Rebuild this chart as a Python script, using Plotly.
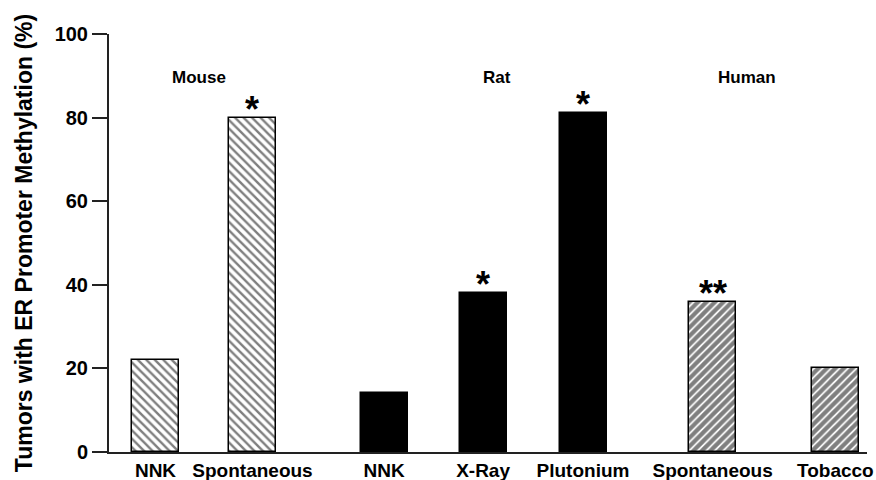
import plotly.graph_objects as go

# ---- data ----
groups = ["Mouse", "Mouse", "Rat", "Rat", "Rat", "Human", "Human"]
labels = ["NNK", "Spontaneous", "NNK", "X-Ray", "Plutonium", "Spontaneous", "Tobacco"]
values = [22, 80, 14, 38, 81, 36, 20]
stars = ["", "*", "", "*", "*", "**", ""]
group_names = ["Mouse", "Rat", "Human"]
y_ticks = [0, 20, 40, 60, 80, 100]

# ---- layout positions (not data) ----
x_pos = [0.47, 1.45, 2.78, 3.78, 4.79, 6.10, 7.34]
group_label_x = [0.91, 3.92, 6.45]
bar_width = 0.475

FONT = "Liberation Sans, Arial, sans-serif"

fig = go.Figure()

styles = {
    "Mouse": dict(color="white", pattern=dict(shape="\\", fgcolor="black", bgcolor="white", size=6, solidity=0.4)),
    "Rat": dict(color="black"),
    "Human": dict(color="white", pattern=dict(shape="/", fgcolor="black", bgcolor="white", size=6, solidity=0.7)),
}

for g in group_names:
    idx = [i for i, gg in enumerate(groups) if gg == g]
    fig.add_trace(go.Bar(
        x=[x_pos[i] for i in idx],
        y=[values[i] for i in idx],
        width=bar_width,
        marker=dict(**styles[g], line=dict(color="black", width=1.5)),
        showlegend=False,
        hoverinfo="skip",
    ))

for i, s in enumerate(stars):
    if s:
        fig.add_annotation(x=x_pos[i], y=values[i], text="<b>" + s + "</b>",
                           showarrow=False, xanchor="center", yanchor="bottom",
                           yshift=-14, font=dict(family=FONT, size=36, color="black"))

for gx, gname in zip(group_label_x, group_names):
    fig.add_annotation(x=gx, y=89.5, text="<b>" + gname + "</b>", showarrow=False,
                       xanchor="center", yanchor="middle",
                       font=dict(family=FONT, size=17, color="black"))

fig.update_layout(
    width=876, height=480,
    margin=dict(l=109, r=9, t=34, b=28),
    paper_bgcolor="white", plot_bgcolor="white",
    bargap=0,
    xaxis=dict(range=[0, 7.66], tickvals=x_pos, ticktext=["<b>%s</b>" % l for l in labels],
               showline=True, linecolor="#222", linewidth=2, ticks="", showgrid=False,
               zeroline=False, tickfont=dict(family=FONT, size=19, color="black"),
               automargin=False, fixedrange=True),
    yaxis=dict(range=[0, 100], tickvals=y_ticks, ticktext=["<b>%d</b>" % v for v in y_ticks],
               showline=True, linecolor="#222", linewidth=2, ticks="outside", ticklen=15,
               tickwidth=1.5, tickcolor="#222", showgrid=False, zeroline=False,
               tickfont=dict(family=FONT, size=20, color="black"),
               title=dict(text="<b>Tumors with ER Promoter Methylation (%)</b>",
                          font=dict(family=FONT, size=23, color="black"), standoff=16),
               automargin=False, fixedrange=True),
)

fig.write_html("out.html", config={"displayModeBar": False},
               post_script="document.body.style.margin='0';document.body.style.overflow='hidden';")
